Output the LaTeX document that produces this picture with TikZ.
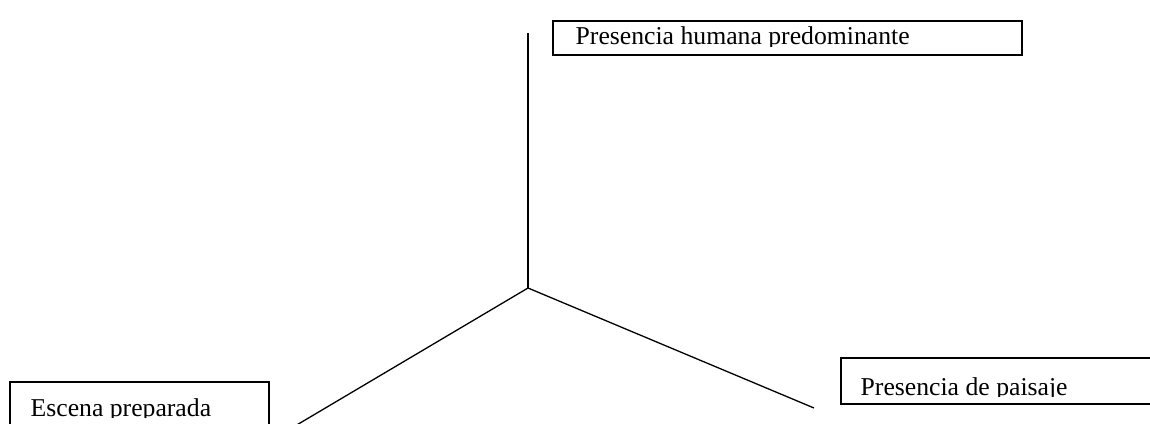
\documentclass[tikz,border=0pt]{standalone}
\usepackage{fontspec}
\setmainfont{Liberation Serif}
\usetikzlibrary{positioning}

\begin{document}
\begin{tikzpicture}[x=1pt,y=-1pt,line width=1.3pt,
	caja/.style={draw,line width=1.5pt,inner sep=0pt,anchor=north west},
	etiqueta/.style={anchor=base west,inner sep=0pt,font=\fontsize{25.7}{30}\selectfont}]
	\useasboundingbox (0,0) rectangle (1150,423);
	\coordinate (centro) at (528,288);
	\coordinate (arriba) at (528,33);
	\coordinate (izq) at (295,426);
	\coordinate (der) at (814,408);
	\draw (centro) -- (arriba);
	\draw (centro) -- (izq);
	\draw (centro) -- (der);

	\node[caja,minimum width=469pt,minimum height=34pt] (humana) at (552,20) {};
	\node[caja,minimum width=330pt,minimum height=46pt] (paisaje) at (840,357) {};
	\node[caja,minimum width=259pt,minimum height=60pt] (escena) at (9,381) {};

	\begin{scope}
		\clip (552,20) rectangle (1021,46);
		\node[etiqueta] (thumana) at (575,44) {Presencia humana predominante};
	\end{scope}
	\begin{scope}
		\clip (840,357) rectangle (1150,396);
		\node[etiqueta] (tpaisaje) at (860,395) {Presencia de paisaje};
	\end{scope}
	\begin{scope}
		\clip (9,381) rectangle (268,417);
		\node[etiqueta] (tescena) at (30,416) {Escena preparada};
	\end{scope}
\end{tikzpicture}
\end{document}
